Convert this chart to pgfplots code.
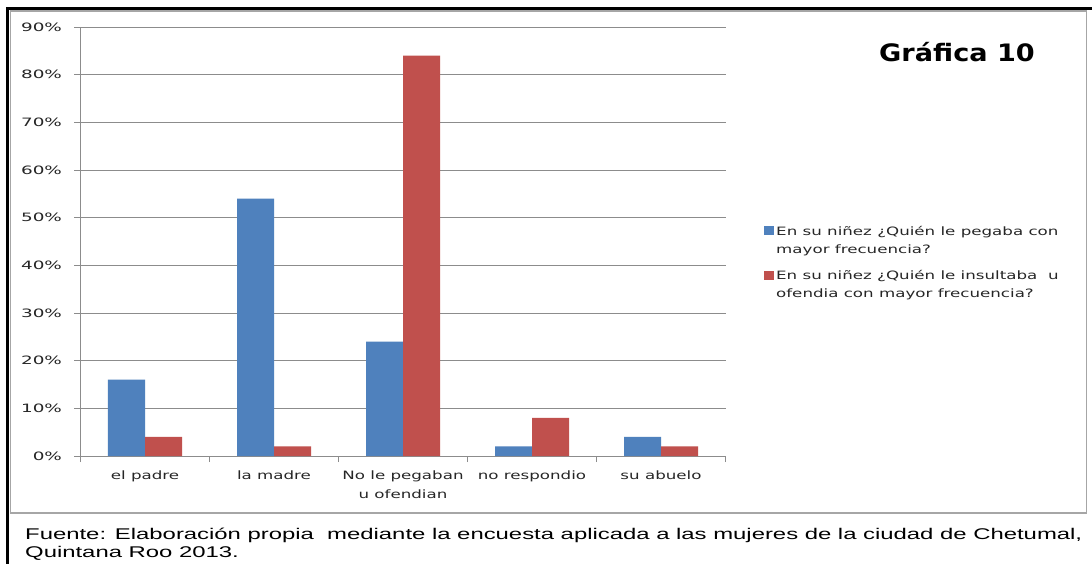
\documentclass[border=0pt]{standalone}
\usepackage{fontspec}
\setmainfont{DejaVu Sans}
\newfontfamily\chartfont[FakeStretch=1.45]{DejaVu Sans}
\newfontfamily\tickfont[FakeStretch=1.6]{DejaVu Sans}
\newfontfamily\titlefont[FakeStretch=1.13]{DejaVu Sans}
\newfontfamily\notefont[FakeStretch=1.54]{Liberation Sans}
\usepackage{pgfplots}
\pgfplotsset{compat=1.18}

\definecolor{xlblue}{HTML}{4F81BD}
\definecolor{xlred}{HTML}{C0504D}
\definecolor{gridgray}{HTML}{8C8C8C}
\definecolor{boxgray}{HTML}{A6A6A6}

\begin{document}
\begin{tikzpicture}[x=1pt,y=1pt]
\useasboundingbox (0,0) rectangle (1092,563);
\fill[white] (0,0) rectangle (1092,563);
% frames
\draw[black, line width=2.5pt] (7.5,-2) -- (7.5,554.5) -- (1094,554.5);
\draw[boxgray, line width=1.2pt] (10.5,50) rectangle (1086.5,552);

\begin{axis}[
  at={(80.5pt,107pt)}, anchor=south west,
  scale only axis, width=645pt, height=429pt,
  xmin=-0.5, xmax=4.5, ymin=0, ymax=90,
  ybar=0pt, bar width=37pt,
  axis lines*=left,
  axis line style={gridgray, line width=1pt},
  ymajorgrids, grid style={gridgray, line width=1pt},
  ytick={0,10,...,90},
  yticklabels={0\%,10\%,20\%,30\%,40\%,50\%,60\%,70\%,80\%,90\%},
  xtick={0,...,4},
  xticklabels={el padre, la madre, {No le pegaban\\u ofendian}, no respondio, su abuelo},
  minor xtick={-0.5,0.5,...,4.5},
  major x tick style={draw=none},
  tick style={gridgray, line width=1pt},
  tick align=outside, major tick length=6pt, minor tick length=6pt,
  tick label style={font=\chartfont\fontsize{11.5}{19}\selectfont, text=black!85},
  yticklabel style={font=\tickfont\fontsize{11.5}{19}\selectfont, xshift=-9pt},
  xticklabel style={align=center, yshift=-5pt},
  legend style={at={(1.055,0.546)}, anchor=north west, draw=none, fill=none,
    font=\chartfont\fontsize{11.5}{18}\selectfont, text=black!85,
    row sep=12pt, cells={align=left}},
  legend image code/.code={\fill[#1] (0pt,5pt) rectangle (10pt,14pt);},
]
\addplot[fill=xlblue, draw=none] coordinates {(0,16) (1,54) (2,24) (3,2) (4,4)};
\addplot[fill=xlred, draw=none] coordinates {(0,4) (1,2) (2,84) (3,8) (4,2)};
\legend{{En su niñez ¿Quién le pegaba con\\mayor frecuencia?},
        {En su niñez ¿Quién le insultaba\ \ u\\ofendia con mayor frecuencia?}}
\end{axis}

\node[font=\titlefont\bfseries\fontsize{24}{28}\selectfont] at (957,511) {Gráfica 10};
\node[anchor=base west, align=left, inner sep=0pt,
  font=\notefont\fontsize{15.5}{18}\selectfont] at (25,6)
  {Fuente: Elaboración propia\ \ mediante la encuesta aplicada a las mujeres de la ciudad de Chetumal,\\Quintana Roo 2013.};
\end{tikzpicture}
\end{document}
